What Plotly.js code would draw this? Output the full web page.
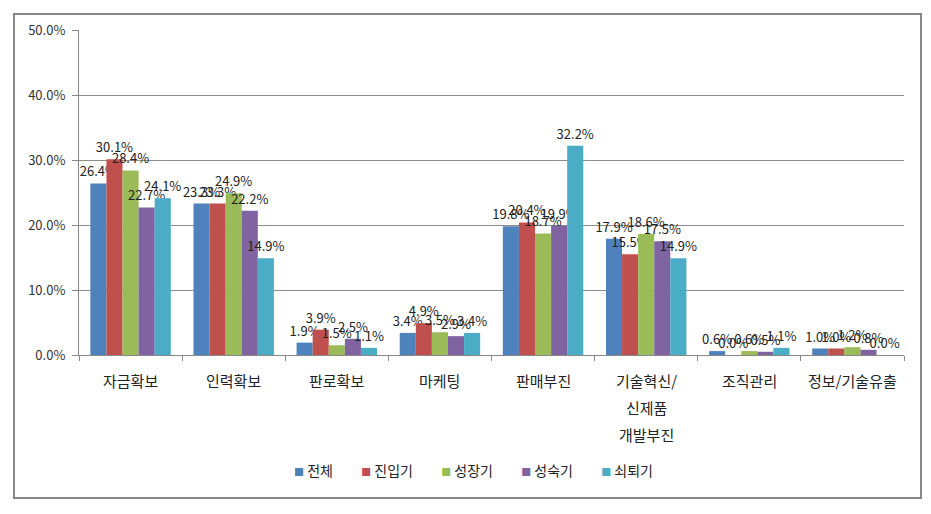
<!DOCTYPE html>
<html><head><meta charset="utf-8">
<script src="https://cdn.plot.ly/plotly-3.0.1.min.js"></script>
<style>html,body{margin:0;padding:0;background:#fff}#chart{width:931px;height:514px}</style>
</head><body><div id="chart"></div>
<script>
const categories = ['자금확보','인력확보','판로확보','마케팅','판매부진','기술혁신/<br>신제품<br>개발부진','조직관리','정보/기술유출'];
const seriesNames = ['전체','진입기','성장기','성숙기','쇠퇴기'];
const total     = [26.4, 23.3, 1.9, 3.4, 19.8, 17.9, 0.6, 1.0];
const entry     = [30.1, 23.3, 3.9, 4.9, 20.4, 15.5, 0.0, 1.0];
const growth    = [28.4, 24.9, 1.5, 3.5, 18.7, 18.6, 0.6, 1.2];
const mature    = [22.7, 22.2, 2.5, 2.9, 19.9, 17.5, 0.5, 0.8];
const decline   = [24.1, 14.9, 1.1, 3.4, 32.2, 14.9, 1.1, 0.0];
const colors = ['#4F81BD','#C0504D','#9BBB59','#8064A2','#4BACC6'];
const yTicks = [0,10,20,30,40,50];

const font = "'Noto Sans CJK KR', 'Noto Sans', sans-serif";
const data = [total, entry, growth, mature, decline].map((vals, i) => ({
  type: 'bar', name: seriesNames[i], x: categories, y: vals,
  marker: {color: colors[i]},
  texttemplate: '%{y:.1f}%', textposition: 'outside', constraintext: 'none',
  textfont: {size: 13, color: '#222', family: font}, cliponaxis: false
}));

// category labels drawn line by line (wider line spacing than tick labels allow)
const annotations = [];
categories.forEach(c => {
  c.split('<br>').forEach((line, j) => {
    annotations.push({
      x: c, xref: 'x', y: 0, yref: 'paper', text: line, showarrow: false,
      xanchor: 'center', yanchor: 'middle', yshift: -25 - j * 27,
      font: {size: 15, color: '#222', family: font}
    });
  });
});
// legend as a single line of coloured squares + names
const gap = '&nbsp;'.repeat(9);
const legendText = seriesNames.map((n, i) =>
  `<span style="color:${colors[i]};font-size:10px">■</span>&nbsp;${n}`).join(gap);
annotations.push({
  x: (473 - 79) / 825, xref: 'paper', y: (355 - 470) / 325, yref: 'paper',
  text: legendText, showarrow: false, xanchor: 'center', yanchor: 'middle',
  font: {size: 14, color: '#222', family: font}
});

const layout = {
  width: 931, height: 514,
  margin: {l: 79, r: 27, t: 30, b: 159},
  paper_bgcolor: '#fff', plot_bgcolor: '#fff',
  font: {family: font, color: '#333'},
  barmode: 'group', bargap: 0.22, bargroupgap: 0,
  showlegend: false,
  xaxis: {
    type: 'category', tickson: 'boundaries', ticks: 'outside', ticklen: 5, tickcolor: '#888',
    showline: true, linecolor: '#888', linewidth: 1, showgrid: false,
    showticklabels: false, automargin: false
  },
  yaxis: {
    range: [0, 50], tickvals: yTicks, ticktext: yTicks.map(v => v.toFixed(1) + '%'),
    ticks: 'outside', ticklen: 6, tickcolor: '#888', ticklabelstandoff: 4,
    showline: true, linecolor: '#888', linewidth: 1,
    showgrid: true, gridcolor: '#8c8c8c', gridwidth: 1, zeroline: false,
    tickfont: {size: 13, color: '#333'}, automargin: false
  },
  annotations: annotations,
  shapes: [{
    type: 'rect', xref: 'paper', yref: 'paper',
    x0: (14-79)/825, x1: (921-79)/825, y0: (355-498)/325, y1: (355-14)/325,
    line: {color: '#888', width: 2}, fillcolor: 'rgba(0,0,0,0)', layer: 'below'
  }]
};
Plotly.newPlot('chart', data, layout, {displayModeBar: false, staticPlot: true});
</script></body></html>
